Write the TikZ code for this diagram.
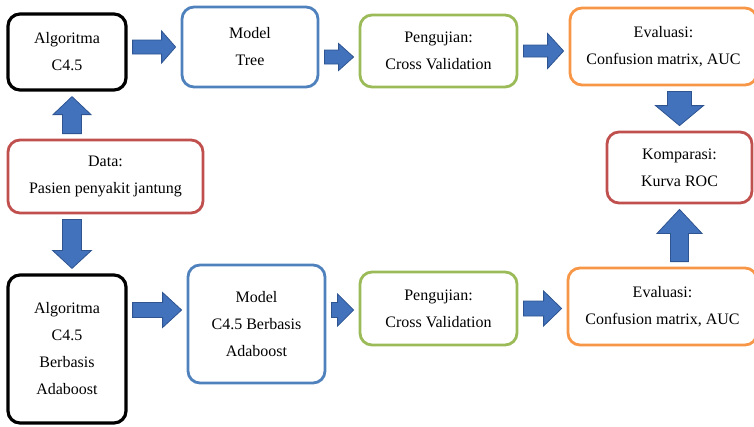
\documentclass[tikz,border=0pt]{standalone}
\usepackage{fontspec}
\setmainfont{Liberation Serif}
\usetikzlibrary{calc}
\definecolor{boxblue}{RGB}{79,129,189}
\definecolor{boxgreen}{RGB}{155,187,89}
\definecolor{boxorange}{RGB}{247,150,70}
\definecolor{boxred}{RGB}{192,80,77}
\definecolor{arrowfill}{RGB}{66,114,188}
\definecolor{arrowline}{RGB}{46,84,145}
\begin{document}
\begin{tikzpicture}[x=1pt,y=-1pt,
    box/.style={draw, rounded corners=12pt, line width=2.8pt, align=center,
      inner sep=0pt, font=\fontsize{16}{27}\selectfont},
    blockarrow/.style n args={3}{draw=arrowline, fill=arrowfill, line width=0.8pt,
      to path={
        ($(\tikztostart)!5pt!(\tikztotarget)$) coordinate (ba-s)
        ($(\tikztotarget)!5pt!(\tikztostart)$) coordinate (ba-t)
        ($(ba-t)!#3!(ba-s)$) coordinate (ba-h)
        ($(ba-s)!#1!90:(ba-t)$) -- ($(ba-h)!#1!90:(ba-t)$)
        -- ($(ba-h)!#2!90:(ba-t)$) -- (ba-t)
        -- ($(ba-h)!#2!-90:(ba-t)$) -- ($(ba-h)!#1!-90:(ba-t)$)
        -- ($(ba-s)!#1!-90:(ba-t)$) -- cycle}}]
  \useasboundingbox (0,0) rectangle (754,426);

  % upper row
  \node[box, draw=black, line width=3.2pt, minimum width=118pt, minimum height=76pt] (c45) at (67,52) {Algoritma\\C4.5};
  \node[box, draw=boxblue, minimum width=136pt, minimum height=80pt] (mtree) at (250,47) {Model\\Tree};
  \node[box, draw=boxgreen, minimum width=157pt, minimum height=72pt] (uji1) at (438.5,51) {Pengujian:\\Cross Validation};
  \node[box, draw=boxorange, minimum width=187pt, minimum height=77pt] (eval1) at (663.5,46.5) {Evaluasi:\\Confusion matrix, AUC};

  % middle
  \node[box, draw=boxred, minimum width=195pt, minimum height=73pt] (data) at (105.5,176.5) {Data:\\Pasien penyakit jantung};
  \node[box, draw=boxred, minimum width=145pt, minimum height=71pt] (komp) at (679.5,167.5) {Komparasi:\\Kurva ROC};

  % lower row
  \node[box, draw=black, line width=3.2pt, minimum width=118pt, minimum height=148pt] (c45ada) at (67,349) {Algoritma\\C4.5\\Berbasis\\Adaboost};
  \node[box, draw=boxblue, minimum width=137pt, minimum height=118pt] (mada) at (256.5,324) {Model\\C4.5 Berbasis\\Adaboost};
  \node[box, draw=boxgreen, minimum width=157pt, minimum height=73pt] (uji2) at (438.5,308.5) {Pengujian:\\Cross Validation};
  \node[box, draw=boxorange, minimum width=189pt, minimum height=77pt] (eval2) at (662.5,306.5) {Evaluasi:\\Confusion matrix, AUC};

  % arrows
  \draw[blockarrow={7pt}{16pt}{14pt}] (c45.east |- mtree.west) to (mtree.west);
  \draw[blockarrow={7pt}{13.5pt}{15pt}] ([yshift=-10pt]mtree.east) to ([yshift=-10pt]mtree.east -| uji1.west);
  \draw[blockarrow={6pt}{17.5pt}{16pt}] (uji1.east) to (uji1.east -| eval1.west);
  \draw[blockarrow={12pt}{24pt}{20pt}] (eval1.south -| komp.north) to (komp.north);
  \draw[blockarrow={9.5pt}{19pt}{18pt}] ([xshift=5pt]c45.south |- data.north) to ([xshift=5pt]c45.south);
  \draw[blockarrow={9.5pt}{19.5pt}{18pt}] ([xshift=5pt]c45ada.north |- data.south) to ([xshift=5pt]c45ada.north);
  \draw[blockarrow={7.5pt}{17.5pt}{19pt}] ([yshift=14pt]mada.west -| c45ada.east) to ([yshift=14pt]mada.west);
  \draw[blockarrow={7.5pt}{16pt}{16pt}] ([yshift=14pt]mada.east) to ([yshift=14pt]mada.east -| uji2.west);
  \draw[blockarrow={7.5pt}{17.5pt}{18pt}] (uji2.east) to (uji2.east -| eval2.west);
  \draw[blockarrow={9pt}{22.5pt}{24pt}] (eval2.north -| komp.south) to (komp.south);
\end{tikzpicture}
\end{document}
